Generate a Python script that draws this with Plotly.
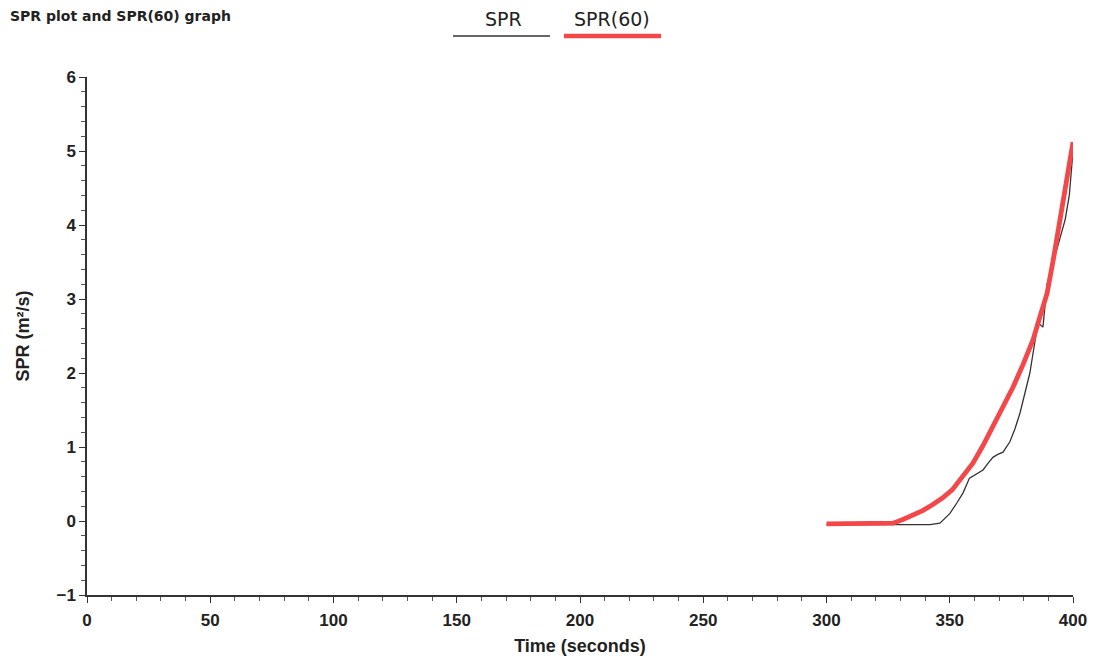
import plotly.graph_objects as go

# SPR (thin black) data
spr_t = [300, 310, 320, 327, 335, 342, 346, 348, 350, 353, 355.4, 358, 361, 363.5, 365.5, 367.5, 369.5, 371.6, 374.4, 376.5, 378.5, 380.5, 382.5, 383.8, 385.8, 387.8, 389.5, 392, 394.5, 396.8, 398.5, 400]
spr_v = [-0.05, -0.05, -0.05, -0.05, -0.06, -0.05, -0.03, 0.03, 0.1, 0.25, 0.38, 0.58, 0.64, 0.69, 0.78, 0.86, 0.9, 0.93, 1.07, 1.25, 1.46, 1.72, 2.0, 2.27, 2.68, 2.62, 3.2, 3.5, 3.8, 4.07, 4.4, 5.0]

# SPR(60) (thick red) data
spr60_t = [300, 327, 331, 335, 339, 343, 347, 351, 355, 359.4, 363.5, 367.5, 371.6, 375.7, 379.8, 383.8, 386.5, 389.5, 392, 395.5, 400]
spr60_v = [-0.04, -0.03, 0.02, 0.08, 0.14, 0.22, 0.31, 0.42, 0.58, 0.78, 1.02, 1.27, 1.54, 1.81, 2.12, 2.45, 2.75, 3.08, 3.53, 4.2, 5.12]

x_ticks = [0, 50, 100, 150, 200, 250, 300, 350, 400]
y_ticks = [-1, 0, 1, 2, 3, 4, 5, 6]

fig = go.Figure()
fig.add_trace(go.Scatter(x=spr_t, y=spr_v, mode="lines", name="SPR",
                         line=dict(color="#333333", width=1.3), showlegend=False))
fig.add_trace(go.Scatter(x=spr60_t, y=spr60_v, mode="lines", name="SPR(60)",
                         line=dict(color="#f4474a", width=4.8),
                         showlegend=False))

tfont = dict(family="Liberation Sans", size=17, color="#222222", weight="bold")
titlefont = dict(family="Liberation Sans", size=18, color="#222222")
common = dict(showgrid=False, zeroline=False, showline=True, linecolor="#333333", linewidth=1.5,
              ticks="outside", ticklen=6, tickcolor="#333333", automargin=False, tickfont=tfont)
fig.update_xaxes(range=[0, 400], tickvals=x_ticks, ticklabelstandoff=3,
                 minor=dict(dtick=10, ticks="outside", ticklen=4, tickcolor="#555555"),
                 title=dict(text="<b>Time (seconds)</b>", font=titlefont, standoff=10), **common)
fig.update_yaxes(range=[-1, 6], tickvals=y_ticks,
                 minor=dict(dtick=0.2, ticks="outside", ticklen=4, tickcolor="#555555"),
                 title=dict(text="<b>SPR (m²/s)</b>", font=titlefont, standoff=22), **common)

# page offset of the figure (browser body margin)
OFF = 8
PX0, PX1, PY0, PY1 = 87, 1073, 77, 595  # plot area in page pixels


def px(xp):
    return (xp - PX0) / (PX1 - PX0)


def py(yp):
    return (PY1 - yp) / (PY1 - PY0)


# Custom legend (text above line)
fig.add_shape(type="line", xref="paper", yref="paper", x0=px(453), x1=px(550),
              y0=py(36), y1=py(36), line=dict(color="#333333", width=1.5))
fig.add_shape(type="line", xref="paper", yref="paper", x0=px(564), x1=px(661),
              y0=py(36), y1=py(36), line=dict(color="#f4474a", width=4.5))
legfont = dict(family="DejaVu Sans", size=19, color="#222222")
fig.add_annotation(xref="paper", yref="paper", x=px(503), y=py(19), xanchor="center", yanchor="middle",
                   text="SPR", showarrow=False, font=legfont)
fig.add_annotation(xref="paper", yref="paper", x=px(612), y=py(19), xanchor="center", yanchor="middle",
                   text="SPR(60)", showarrow=False, font=legfont)

# Title at top-left
fig.add_annotation(xref="paper", yref="paper", x=px(OFF), y=py(OFF - 2), xanchor="left",
                   yanchor="top", text="<b>SPR plot and SPR(60) graph</b>", showarrow=False,
                   font=dict(family="DejaVu Sans", size=14, color="#222222"))

fig.update_layout(width=1097 - OFF, height=661 - OFF, plot_bgcolor="white", paper_bgcolor="white",
                  margin=dict(l=PX0 - OFF, r=1097 - PX1, t=PY0 - OFF, b=661 - PY1, autoexpand=False),
                  showlegend=False)

fig.write_html("out.html")
